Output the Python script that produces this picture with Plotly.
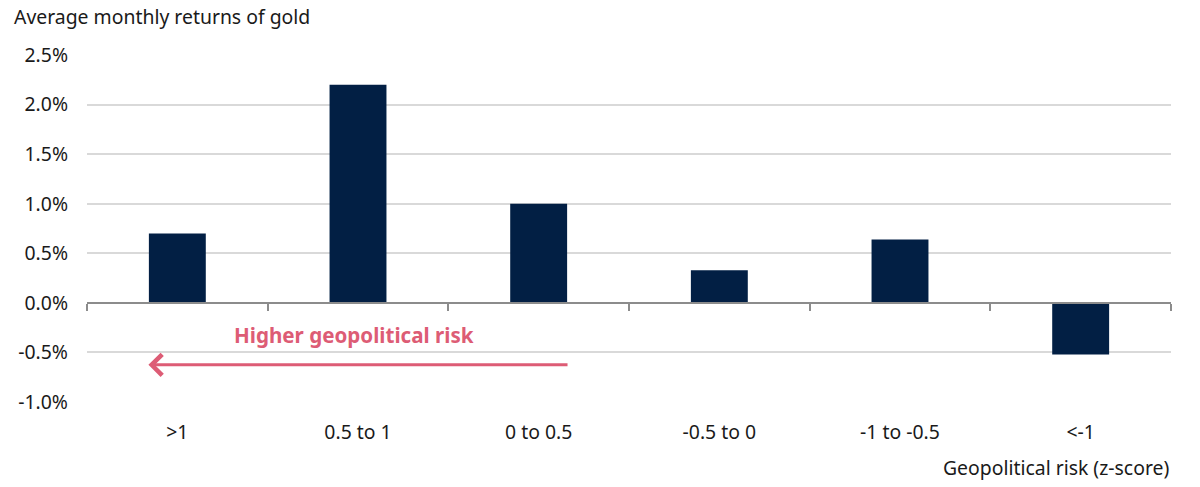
import plotly.graph_objects as go

categories = [">1", "0.5 to 1", "0 to 0.5", "-0.5 to 0", "-1 to -0.5", "<-1"]
returns = [0.70, 2.20, 1.00, 0.33, 0.64, -0.52]
y_ticks = [2.5, 2.0, 1.5, 1.0, 0.5, 0.0, -0.5, -1.0]
y_tick_labels = [f"{v:.1f}%" for v in y_ticks]

FONT = "Noto Sans"
NAVY = "#021F44"
PINK = "#DD5C75"
TXT = "#1a1a1a"
FS = 19.4

fig = go.Figure()
fig.add_trace(go.Bar(x=categories, y=returns, marker=dict(color=NAVY, line=dict(width=0)),
                     width=0.315, showlegend=False, hoverinfo="x+y"))
# invisible helper trace to drive the tick-mark axis at zero
fig.add_trace(go.Scatter(x=categories, y=[0]*len(categories), xaxis="x2", mode="markers",
                         marker=dict(opacity=0), showlegend=False, hoverinfo="skip"))

y_min, y_max = -1.0, 2.5
zero_pos = (0 - y_min) / (y_max - y_min)

fig.update_layout(
    width=1200, height=487,
    margin=dict(l=87, r=29, t=55, b=85),
    paper_bgcolor="white", plot_bgcolor="white",
    font=dict(family=FONT, size=FS, color=TXT),
    title=dict(text="Average monthly returns of gold", x=14/1200, xref="container",
               y=1-17/487, yref="container", xanchor="left", yanchor="middle",
               font=dict(family=FONT, size=FS, color=TXT)),
    xaxis=dict(type="category", categoryorder="array", categoryarray=categories,
               range=[-0.5, 5.5], showgrid=False, showline=False, ticks="",
               zeroline=False, ticklabelstandoff=17, tickfont=dict(size=FS)),
    xaxis2=dict(type="category", categoryorder="array", categoryarray=categories,
                range=[-0.5, 5.5], overlaying="x", anchor="free", position=zero_pos,
                side="bottom", showgrid=False, showline=True, linecolor="#8c8c8c", linewidth=1.5,
                ticks="outside", tickson="boundaries", ticklen=7, tickcolor="#8c8c8c",
                tickwidth=1.5, showticklabels=False, zeroline=False),
    yaxis=dict(range=[y_min, y_max], tickvals=y_ticks, ticktext=y_tick_labels,
               showgrid=True, gridcolor="#d9d9d9", gridwidth=1.5, zeroline=False,
               showline=False, ticks="", ticklabelstandoff=18, tickfont=dict(size=FS)),
    bargap=0.685,
)

fig.add_annotation(text="Geopolitical risk (z-score)", xref="paper", yref="paper",
                   x=(1171-87)/1084, y=(402-467)/347, xanchor="right", yanchor="middle",
                   showarrow=False, font=dict(family=FONT, size=FS, color=TXT))

# arrow indicating higher geopolitical risk
fig.add_annotation(x=-0.16, y=-0.625, ax=2.168, ay=-0.625, xref="x", yref="y",
                   axref="x", ayref="y", text="", showarrow=True, arrowhead=4,
                   arrowsize=1.35, arrowwidth=3, arrowcolor=PINK)
fig.add_annotation(text="<b>Higher geopolitical risk</b>", x=0.98, y=-0.32, xref="x", yref="y",
                   showarrow=False, xanchor="center", yanchor="middle",
                   font=dict(family=FONT, size=20.6, color=PINK))

fig.write_html("out.html", config={"displayModeBar": False},
               post_script="document.body.style.margin='0';")
